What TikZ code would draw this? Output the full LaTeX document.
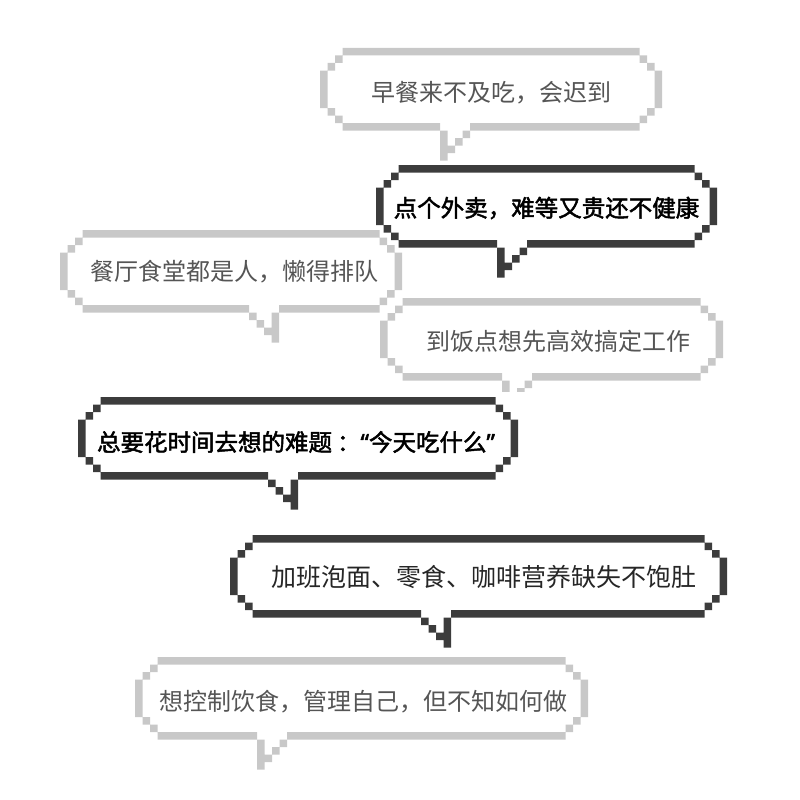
\documentclass[tikz,border=0pt]{standalone}
\usepackage{fontspec}
\setmainfont{Noto Sans CJK SC}
\newfontfamily\boldcjk{Noto Sans CJK SC}[FakeBold=2]
\newfontfamily\westfont{Noto Sans}[FakeBold=2]
\definecolor{bubblelight}{RGB}{200,200,200}
\definecolor{bubbledark}{RGB}{60,60,60}
\definecolor{textgray}{RGB}{85,85,85}
\tikzset{
  saylight/.style={text=textgray, inner sep=0pt, font=\fontsize{24}{28}\selectfont},
  saydark/.style={text=black, inner sep=0pt, font=\fontsize{23.5}{28}\selectfont\boldcjk},
  saymid/.style={text=black!85, inner sep=0pt, font=\fontsize{25}{28}\selectfont}
}
% pixel speech bubble: #1 left, #2 right, #3 top, #4 tail gap start, #5 tail side (r/l), #6 colour
\newcommand{\pixbubble}[6]{%
  \pgfmathsetmacro{\bw}{(#2-#1)/7.5}%
  \pgfmathsetmacro{\bt}{(#4-#1)/7.5}%
  \begin{scope}[shift={(#1,#3)}, x=7.5pt, y=-7.5pt]
    % white inside
    \fill[white] (3,0) -- ({\bw-3},0) -- ({\bw-3},1) -- ({\bw-2},1) -- ({\bw-2},2)
      -- ({\bw-1},2) -- ({\bw-1},3) -- (\bw,3) -- (\bw,8) -- ({\bw-1},8) -- ({\bw-1},9)
      -- ({\bw-2},9) -- ({\bw-2},10) -- ({\bw-3},10) -- ({\bw-3},11) -- (3,11) -- (3,10)
      -- (2,10) -- (2,9) -- (1,9) -- (1,8) -- (0,8) -- (0,3) -- (1,3) -- (1,2) -- (2,2)
      -- (2,1) -- (3,1) -- cycle;
    \fill[white] (\bt,10) rectangle ({\bt+4},12);
    % outline
    \fill[#6] (3,0) rectangle ({\bw-3},1)
      (2,1) rectangle (3,2) (1,2) rectangle (2,3) (0,3) rectangle (1,8)
      (1,8) rectangle (2,9) (2,9) rectangle (3,10)
      ({\bw-3},1) rectangle ({\bw-2},2) ({\bw-2},2) rectangle ({\bw-1},3)
      ({\bw-1},3) rectangle (\bw,8)
      ({\bw-2},8) rectangle ({\bw-1},9) ({\bw-3},9) rectangle ({\bw-2},10)
      (3,10) rectangle (\bt,11) ({\bt+4},10) rectangle ({\bw-3},11);
    % tail
    \if#5r
      \fill[#6] (\bt,11) rectangle ({\bt+1},15)
        ({\bt+1},13) rectangle ({\bt+2},14) ({\bt+2},12) rectangle ({\bt+3},13)
        ({\bt+3},11) rectangle ({\bt+4},12);
    \else
      \fill[#6] (\bt,11) rectangle ({\bt+1},12)
        ({\bt+1},12) rectangle ({\bt+2},13) ({\bt+2},13) rectangle ({\bt+3},14)
        ({\bt+3},11) rectangle ({\bt+4},15);
    \fi
  \end{scope}}

\begin{document}
\begin{tikzpicture}[x=1pt, y=-1pt]
    \useasboundingbox[fill=white] (0,0) rectangle (800,800);

    % breakfast
    \pixbubble{320}{662}{48}{440}{r}{bubblelight}
    \node[saylight] (breakfast) at (491.5,93) {早餐来不及吃，会迟到};

    % takeout
    \pixbubble{376}{717}{165}{497}{r}{bubbledark}
    \node[saydark] (takeout) at (546.5,208) {点个外卖，难等又贵还不健康};

    % canteen
    \pixbubble{60}{402}{230}{249}{l}{bubblelight}
    \node[saylight] (canteen) at (234,272) {餐厅食堂都是人，懒得排队};

    % work first
    \pixbubble{380}{723}{298}{502}{r}{bubblelight}
    \node[saylight] (work) at (558,341) {到饭点想先高效搞定工作};

    % what to eat (its white ground cuts the tail above)
    \fill[white] (496,392) rectangle (540,415);
    \pixbubble{78}{518}{397}{268}{l}{bubbledark}
    \node[saydark] (whattoeat) at (296,442)
      {总要花时间去想的难题\hspace{5pt}：{\westfont “}今天吃什么{\westfont ”}};

    % overtime snacks
    \pixbubble{230}{727}{535}{421}{l}{bubbledark}
    \node[saymid] (snacks) at (484,577) {加班泡面、零食、咖啡营养缺失不饱肚};

    % self control
    \pixbubble{135}{588}{657}{257}{r}{bubblelight}
    \node[saylight] (control) at (363,702) {想控制饮食，管理自己，但不知如何做};

\end{tikzpicture}
\end{document}
